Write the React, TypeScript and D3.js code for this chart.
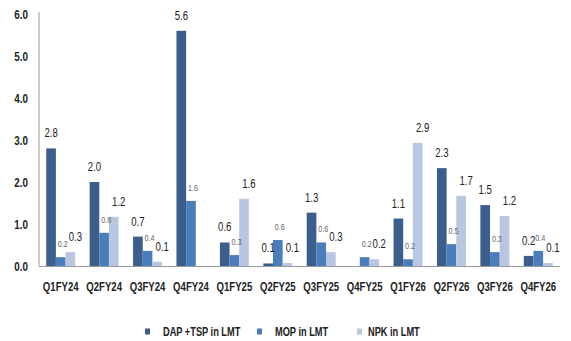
import React from "react";
import * as d3 from "d3";

const categories = ["Q1FY24","Q2FY24","Q3FY24","Q4FY24","Q1FY25","Q2FY25","Q3FY25","Q4FY25","Q1FY26","Q2FY26","Q3FY26","Q4FY26"];
const dapValues: (number | null)[] = [2.8, 2.0, 0.7, 5.6, 0.56, 0.06, 1.27, null, 1.13, 2.33, 1.45, 0.24];
const mopValues: (number | null)[] = [0.21, 0.79, 0.36, 1.55, 0.26, 0.62, 0.56, 0.21, 0.16, 0.52, 0.33, 0.36];
const npkValues: (number | null)[] = [0.33, 1.17, 0.1, null, 1.6, 0.07, 0.33, 0.16, 2.93, 1.67, 1.19, 0.07];
const seriesNames = ["DAP +TSP in LMT", "MOP in LMT", "NPK in LMT"];
const yTicks = [0, 1, 2, 3, 4, 5, 6];

const colors = ["#3B5E8C", "#4A7EBB", "#B8C6E0"];
const FONT = "'Liberation Sans', Arial, sans-serif";

function T(props: { x: number; y: number; anchor?: string; size: number; bold?: boolean; fill: string; sx?: number; children: React.ReactNode }) {
  const { x, y, anchor = "start", size, bold, fill, sx = 0.8, children } = props;
  return (
    <g transform={`translate(${x},${y}) scale(${sx},1)`}>
      <text x={0} y={0} textAnchor={anchor} fontSize={size} fontWeight={bold ? "bold" : "normal"} fill={fill}>
        {children}
      </text>
    </g>
  );
}

export default function App() {
  const W = 571, H = 341;
  const x0 = 39, x1 = 560, yTop = 14, yBot = 266;
  const y = d3.scaleLinear().domain([0, 6]).range([yBot, yTop]);
  const band = d3.scaleBand<string>().domain(categories).range([x0, x1]).paddingInner(0.333).paddingOuter(0.1667);
  const sub = d3.scaleBand<number>().domain([0, 1, 2]).range([0, band.bandwidth()]);
  const series = [dapValues, mopValues, npkValues];
  const labelStyle = [
    { size: 12, color: "#222", dx: 0, dy: -11 },
    { size: 9, color: "#666", dx: 2, dy: -10 },
    { size: 12, color: "#222", dx: 5, dy: -11 },
  ];
  const legendX = [145, 257, 357];
  const legendTextDx = 18;
  const legendTextX = [163, 275, 368];

  return (
    <svg width={W} height={H} style={{ position: "absolute", left: 0, top: 0, background: "#fff" }} fontFamily={FONT}>
      <rect width={W} height={H} fill="#fff" />
      {yTicks.map((t) => (
        <T key={t} x={28} y={y(t) + 4.5} anchor="end" size={12} bold fill="#222" sx={0.82}>
          {t.toFixed(1)}
        </T>
      ))}
      {series.map((vals, si) =>
        vals.map((v, ci) =>
          v == null ? null : (
            <rect
              key={`b${si}-${ci}`}
              x={(band(categories[ci]) as number) + (sub(si) as number)}
              y={y(v)}
              width={sub.bandwidth()}
              height={yBot - y(v)}
              fill={colors[si]}
            />
          )
        )
      )}
      <line x1={x0} x2={x0} y1={yTop - 2} y2={yBot} stroke="#999" strokeWidth={1} />
      <line x1={x0} x2={x1} y1={yBot + 0.5} y2={yBot + 0.5} stroke="#999" strokeWidth={1} />
      {series.map((vals, si) =>
        vals.map((v, ci) =>
          v == null ? null : (
            <T
              key={`l${si}-${ci}`}
              x={(band(categories[ci]) as number) + (sub(si) as number) + sub.bandwidth() / 2 + labelStyle[si].dx}
              y={y(v) + labelStyle[si].dy}
              anchor="middle"
              size={labelStyle[si].size}
              fill={labelStyle[si].color}
            >
              {(Math.round(v * 10) / 10).toFixed(1)}
            </T>
          )
        )
      )}
      {categories.map((c) => (
        <T key={c} x={(band(c) as number) + band.bandwidth() / 2} y={291} anchor="middle" size={12} bold fill="#222">
          {c}
        </T>
      ))}
      {seriesNames.map((n, i) => (
        <g key={n}>
          <rect x={legendX[i]} y={328.5} width={5} height={6} fill={colors[i]} />
          <T x={legendTextX[i] ?? legendX[i] + legendTextDx} y={336} size={12} bold fill="#222" sx={0.77}>{n}</T>
        </g>
      ))}
    </svg>
  );
}
